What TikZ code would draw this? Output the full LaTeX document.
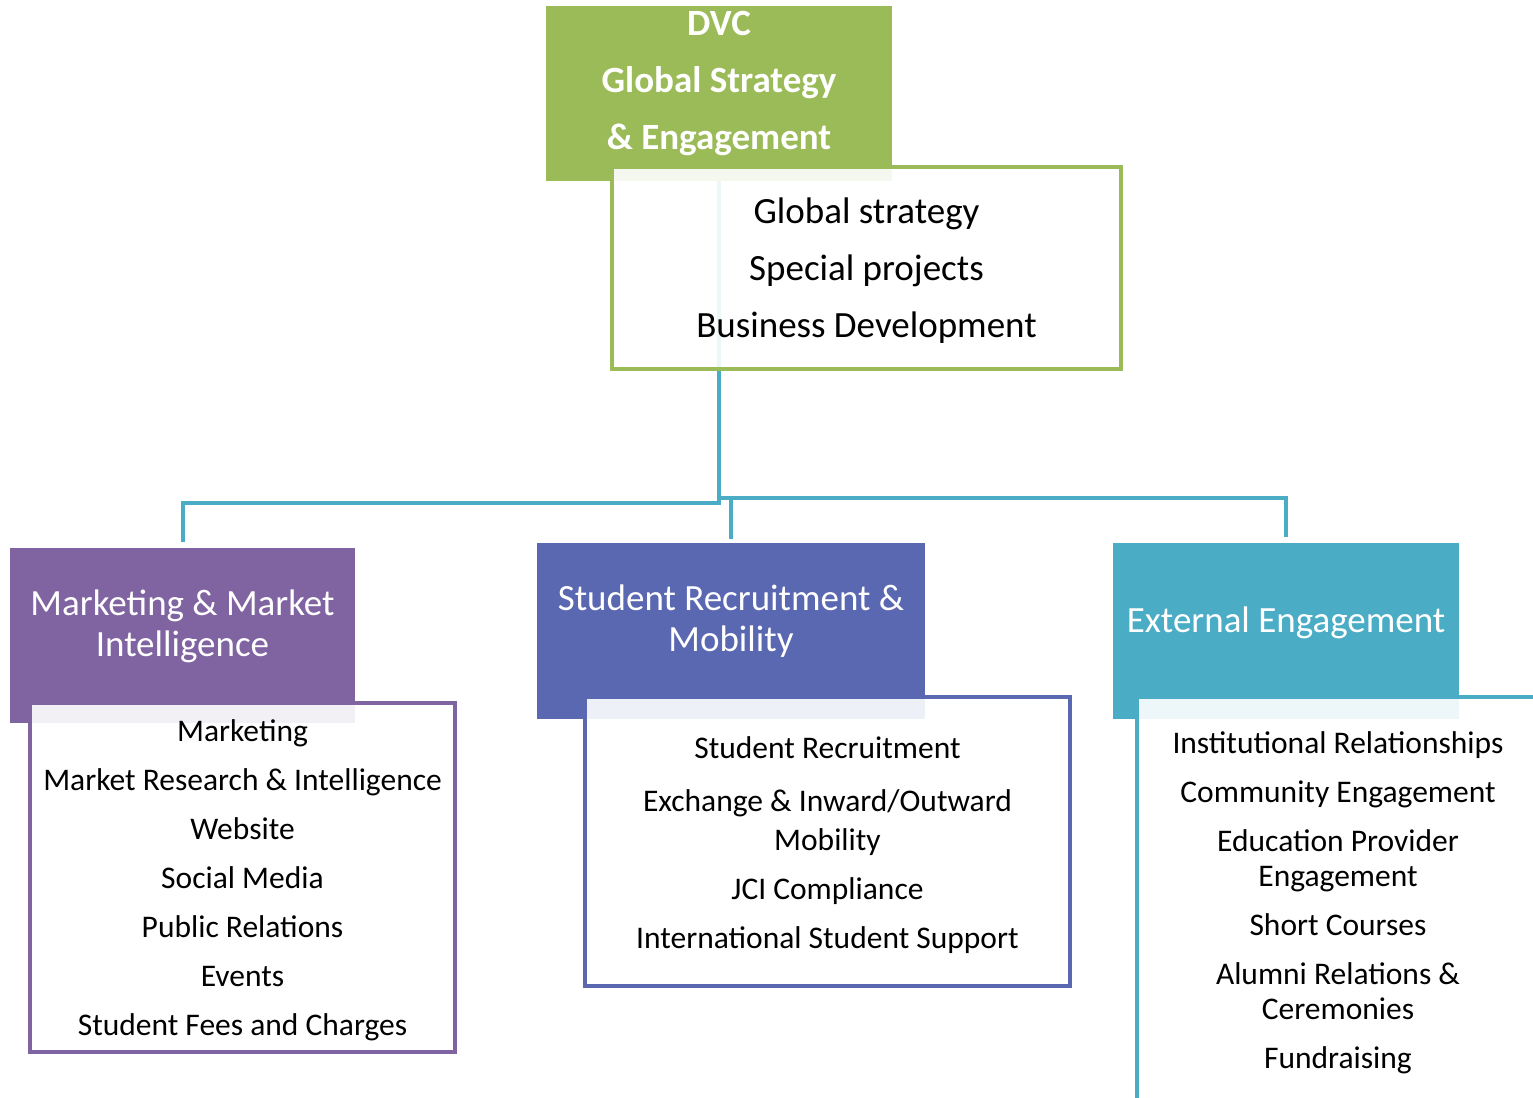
\documentclass[tikz,border=0pt]{standalone}
\usepackage{fontspec}
\setmainfont{Carlito}
\usepackage{xcolor}
\usepackage{tikz}
\usetikzlibrary{backgrounds}

\definecolor{dvcgreen}{HTML}{9BBB59}
\definecolor{mktpurple}{HTML}{8064A2}
\definecolor{srmblue}{HTML}{5A67B1}
\definecolor{extteal}{HTML}{4BACC6}

\begin{document}
\begin{tikzpicture}[x=1pt,y=-1pt,
  headbox/.style={rectangle,fill=#1,inner sep=0pt},
  headtxt/.style={text=white,align=center,font=\fontsize{37}{41}\selectfont},
  listbox/.style={rectangle,draw=#1,line width=4pt,fill=white,fill opacity=0.9,inner sep=0pt},
  listtxt/.style={align=center,inner sep=0pt,font=\fontsize{31.5}{35}\selectfont},
  link/.style={extteal,line width=4pt}]
  \useasboundingbox (0,0) rectangle (1533,1097);
  \clip (0,0) rectangle (1533,1097);

  % top of the chart
  \node[headbox=dvcgreen,minimum width=346pt,minimum height=175pt] (dvc) at (719,93.5) {};
  \node[headtxt,font=\fontsize{37}{57}\selectfont\bfseries] (dvc-t) at ([yshift=10pt]dvc.center)
    {DVC\\Global Strategy\\\& Engagement};
  \node[listbox=dvcgreen,minimum width=509pt,minimum height=202pt] (dvc-l) at (866.5,268) {};
  \node[listtxt,font=\fontsize{37}{57}\selectfont] (dvc-lt) at ([yshift=-3pt]dvc-l.center)
    {Global strategy\\Special projects\\Business Development};

  % the three units
  \node[headbox=mktpurple,minimum width=345pt,minimum height=175pt] (mkt) at (182.5,635.5) {};
  \node[headtxt] (mkt-t) at ([yshift=9pt]mkt.center) {Marketing \& Market\\Intelligence};
  \node[listbox=mktpurple,minimum width=425pt,minimum height=349pt] (mkt-l) at (242.5,877.5) {};
  \node[listtxt] (mkt-lt) at ([yshift=-3pt]mkt-l.center)
    {Marketing\\[14pt]Market Research \& Intelligence\\[14pt]Website\\[14pt]Social Media\\[14pt]%
     Public Relations\\[14pt]Events\\[14pt]Student Fees and Charges};

  \node[headbox=srmblue,minimum width=388pt,minimum height=176pt] (srm) at (731,631) {};
  \node[headtxt] (srm-t) at ([yshift=10pt]srm.center) {Student Recruitment \&\\Mobility};
  \node[listbox=srmblue,minimum width=485pt,minimum height=289pt] (srm-l) at (827.5,841.5) {};
  \node[listtxt,font=\fontsize{31.5}{39}\selectfont] (srm-lt) at ([yshift=-4pt]srm-l.center)
    {Student Recruitment\\[14pt]Exchange \& Inward/Outward\\Mobility\\[10pt]JCI Compliance\\[10pt]%
     International Student Support};

  \node[headbox=extteal,minimum width=346pt,minimum height=176pt] (ext) at (1286,631) {};
  \node[headtxt] (ext-t) at ([yshift=8pt]ext.center) {External Engagement};
  \node[listbox=extteal,minimum width=402pt,minimum height=405pt] (ext-l) at (1338,899.5) {};
  \node[listtxt] (ext-lt) at ([yshift=-3pt]ext-l.center)
    {Institutional Relationships\\[14pt]Community Engagement\\[14pt]Education Provider\\Engagement\\[14pt]%
     Short Courses\\[14pt]Alumni Relations \&\\Ceremonies\\[14pt]Fundraising};

  \coordinate (hub) at (719,503);
  \begin{scope}[on background layer]
    \draw[link] (dvc.south) -- (hub) -| ([yshift=6pt]mkt.north);
    \draw[link] (dvc.south |- 0,498) -| ([yshift=6pt]ext.north);
    \draw[link] (srm.north |- 0,498) -- ([yshift=4pt]srm.north);
  \end{scope}
\end{tikzpicture}
\end{document}
